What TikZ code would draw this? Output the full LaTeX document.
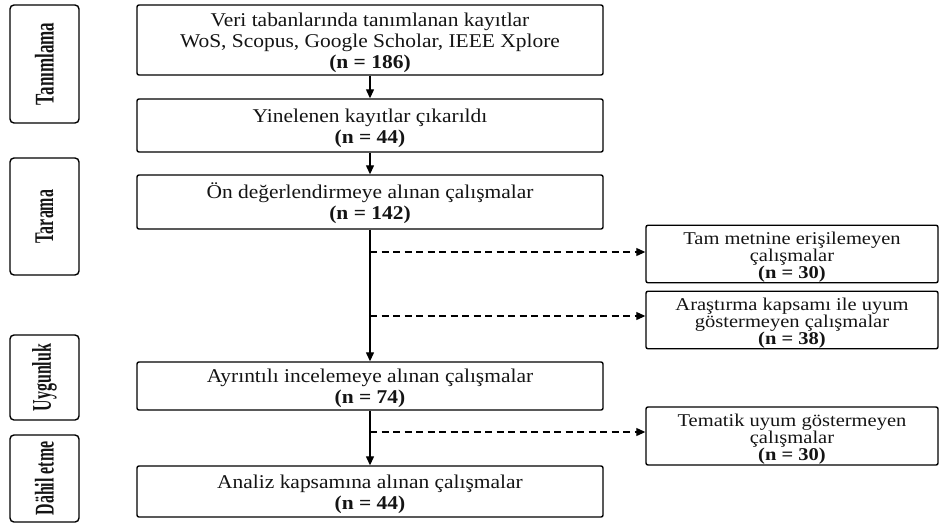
\documentclass[tikz,border=0pt]{standalone}
\usepackage{fontspec}
\setmainfont{Liberation Serif}
\newfontfamily\mainfont{Liberation Serif}[FakeStretch=1.1]
\newfontfamily\sidefont{Liberation Serif}[FakeStretch=1.14]
\newfontfamily\stagefont{Liberation Serif}[FakeStretch=0.63]
\newfontfamily\stagefontnarrow{Liberation Serif}[FakeStretch=0.59]
\newcommand{\tallstrut}{\rule{0pt}{19pt}}
\usetikzlibrary{arrows.meta}

\begin{document}
\begin{tikzpicture}[x=1pt,y=-1pt,
  box/.style={draw=black, line width=1.4pt, rounded corners=2pt, align=center,
    inner sep=0pt, text=black!92},
  mainbox/.style={box, minimum width=466pt, font=\mainfont\fontsize{19.5}{21}\selectfont},
  sidebox/.style={box, minimum width=292pt, font=\sidefont\fontsize{18}{16}\selectfont},
  stage/.style={box, rounded corners=4pt, rotate=90, minimum height=69pt,
    font=\stagefont\bfseries\fontsize{27}{27}\selectfont},
  narrowstage/.style={stage, font=\stagefontnarrow\bfseries\fontsize{27}{27}\selectfont},
  flow/.style={line width=1.3pt, -{Triangle[length=9pt,width=8pt]}},
  branch/.style={line width=1.1pt, dash pattern=on 7pt off 4.5pt,
    -{Triangle[length=9pt,width=8pt]}}]

\useasboundingbox (0,0) rectangle (941,525);

% phase labels on the left
\node[stage, minimum width=118pt]       (p1) at (44.5,64)    {Tanımlama};
\node[narrowstage, minimum width=117pt] (p2) at (44.5,216.5) {Tarama};
\node[narrowstage, minimum width=85pt]  (p3) at (44.5,377.5) {Uygunluk};
\node[narrowstage, minimum width=87pt]  (p4) at (44.5,478.5) {Dähil etme};

% main flow
\node[mainbox, minimum height=70pt] (b1) at (370,40)
  {\tallstrut Veri tabanlarında tanımlanan kayıtlar\\
   WoS, Scopus, Google Scholar, IEEE Xplore\\
   \textbf{(n = 186)}};
\node[mainbox, minimum height=53pt] (b2) at (370,125.5)
  {\tallstrut Yinelenen kayıtlar çıkarıldı\\ \textbf{(n = 44)}};
\node[mainbox, minimum height=54pt] (b3) at (370,202)
  {\tallstrut Ön değerlendirmeye alınan çalışmalar\\ \textbf{(n = 142)}};
\node[mainbox, minimum height=48pt] (b4) at (370,386)
  {\tallstrut Ayrıntılı incelemeye alınan çalışmalar\\ \textbf{(n = 74)}};
\node[mainbox, minimum height=51pt] (b5) at (370,491.5)
  {\tallstrut Analiz kapsamına alınan çalışmalar\\ \textbf{(n = 44)}};

% excluded records
\node[sidebox, minimum height=56pt] (sA) at (792,254)
  {\tallstrut Tam metnine erişilemeyen\\ çalışmalar\\ \textbf{(n = 30)}};
\node[sidebox, minimum height=56pt] (sB) at (792,320)
  {\tallstrut Araştırma kapsamı ile uyum\\ göstermeyen çalışmalar\\ \textbf{(n = 38)}};
\node[sidebox, minimum height=58pt] (sC) at (792,436)
  {\tallstrut Tematik uyum göstermeyen\\ çalışmalar\\ \textbf{(n = 30)}};

% branch points on the vertical flow line
\coordinate (j1) at (370,252);
\coordinate (j2) at (370,316);
\coordinate (j3) at (370,432);

\draw[flow] (b1) -- (b2);
\draw[flow] (b2) -- (b3);
\draw[flow] (b3) -- (b4);
\draw[flow] (b4) -- (b5);

\draw[branch] (j1) -- (j1 -| sA.west);
\draw[branch] (j2) -- (j2 -| sB.west);
\draw[branch] (j3) -- (j3 -| sC.west);
\end{tikzpicture}
\end{document}
